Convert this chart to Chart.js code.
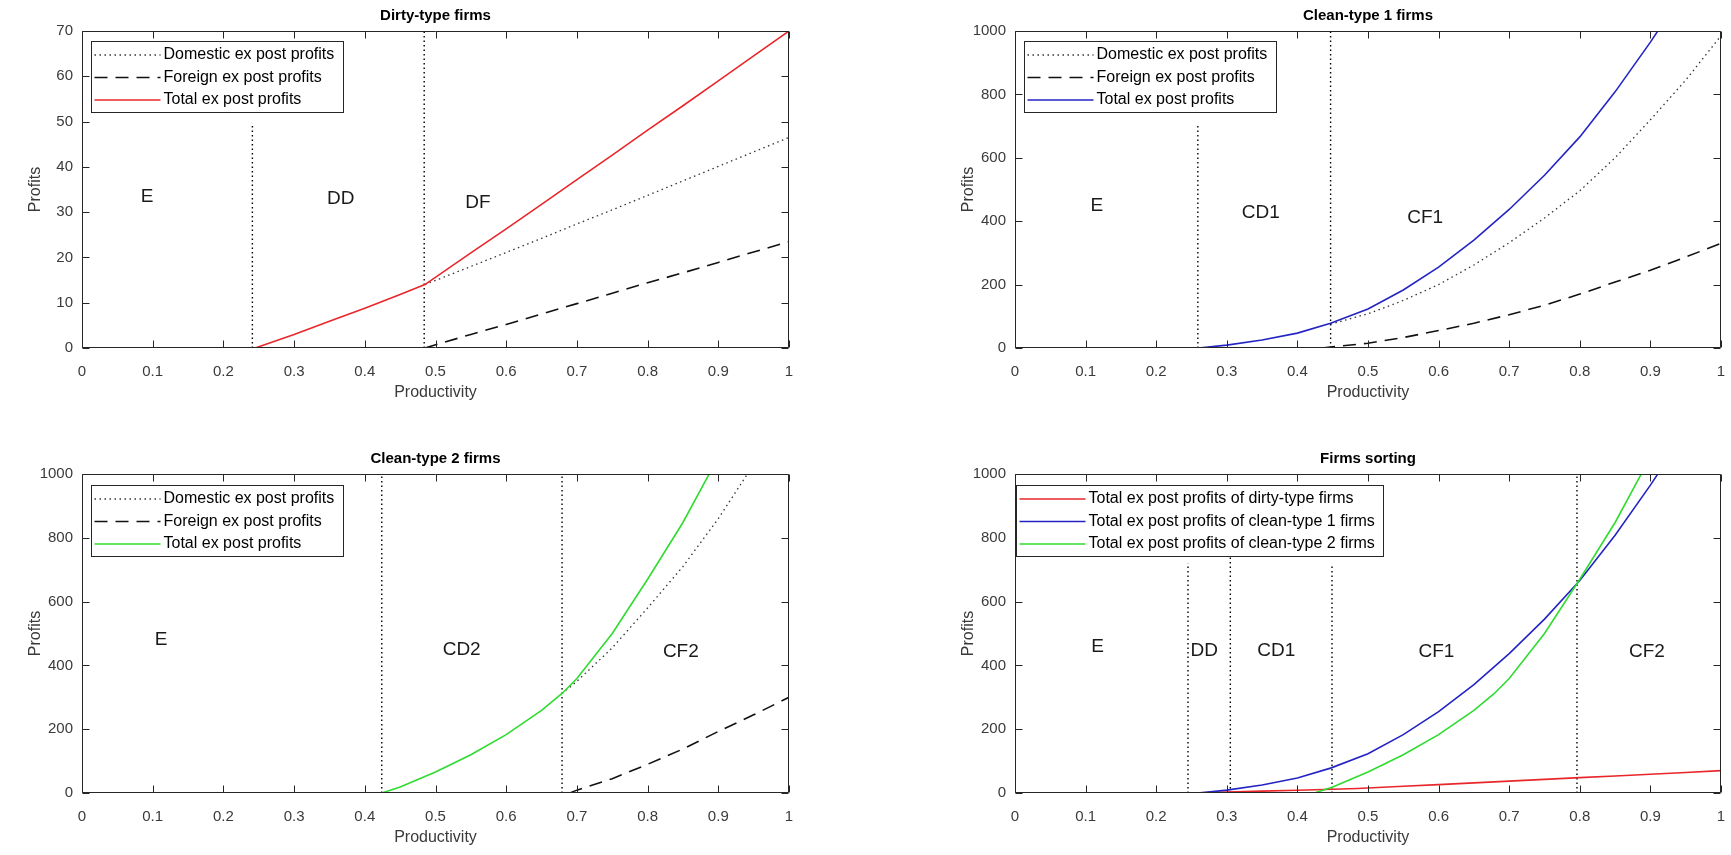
<!DOCTYPE html>
<html>
<head>
<meta charset="utf-8">
<script src="https://cdn.jsdelivr.net/npm/chart.js@4.4.1/dist/chart.umd.min.js"></script>
<style>
  html, body { margin: 0; padding: 0; background: #fff; overflow: hidden; }
  body { width: 1731px; height: 855px; position: relative; }
  .panel { position: absolute; }
</style>
</head>
<body>
<div class="panel" style="left:0px;top:0px;width:871px;height:408px"><canvas id="dirty"></canvas></div>
<div class="panel" style="left:933px;top:0px;width:870px;height:408px"><canvas id="clean1"></canvas></div>
<div class="panel" style="left:0px;top:443px;width:871px;height:410px"><canvas id="clean2"></canvas></div>
<div class="panel" style="left:933px;top:443px;width:870px;height:410px"><canvas id="sorting"></canvas></div>
<script>
const FONT = "'Liberation Sans', Arial, Helvetica, sans-serif";

// axis ticks
const xTicks = [0, 0.1, 0.2, 0.3, 0.4, 0.5, 0.6, 0.7, 0.8, 0.9, 1];
const xTickLabels = ['0', '0.1', '0.2', '0.3', '0.4', '0.5', '0.6', '0.7', '0.8', '0.9', '1'];
const yTicksDirty = [0, 10, 20, 30, 40, 50, 60, 70];
const yTickLabelsDirty = ['0', '10', '20', '30', '40', '50', '60', '70'];
const yTicksClean = [0, 200, 400, 600, 800, 1000];
const yTickLabelsClean = ['0', '200', '400', '600', '800', '1000'];

// dirty-type firms
const dirtyTotalX = [0, 0.245, 0.3, 0.35, 0.4, 0.45, 0.485, 0.55, 0.6, 0.65, 0.7, 0.75, 0.8, 0.85, 0.9, 0.95, 1];
const dirtyTotal = [0, 0, 3.0, 5.9, 8.8, 11.8, 14.0, 21.0, 26.3, 31.7, 37.2, 42.6, 48.1, 53.5, 59.0, 64.5, 70.0];
const dirtyFX = [0.485, 0.55, 0.6, 0.65, 0.7, 0.75, 0.8, 0.85, 0.9, 0.95, 1];
const dirtyDomestic = [14.0, 18.0, 21.1, 24.2, 27.4, 30.5, 33.7, 36.9, 40.1, 43.3, 46.5];
const dirtyForeign = [0, 3.0, 5.2, 7.5, 9.8, 12.1, 14.4, 16.6, 18.9, 21.2, 23.5];
const dirtyCutX = [0.241, 0.484];
const dirtyCutTop = [49, 70];
const dirtyRegions = ['E', 'DD', 'DF'];
const dirtyRegionX = [0.092, 0.366, 0.56];
const dirtyRegionY = [33.5, 33.0, 32.0];

// clean-type 1 firms
const c1TotalX = [0, 0.26, 0.3, 0.35, 0.4, 0.447, 0.5, 0.55, 0.6, 0.65, 0.7, 0.75, 0.8, 0.85, 0.9, 0.95, 1];
const c1Total = [0, 0, 9, 25, 47, 78, 123, 183, 255, 340, 437, 545, 666, 808, 965, 1132, 1315];
const c1DomX = [0.447, 0.5, 0.55, 0.6, 0.65, 0.7, 0.75, 0.8, 0.85, 0.9, 0.95, 1];
const c1Domestic = [75, 108, 150, 200, 262, 332, 410, 496, 600, 720, 845, 985];
const c1ForX = [0.435, 0.447, 0.5, 0.55, 0.6, 0.65, 0.7, 0.75, 0.8, 0.85, 0.9, 0.95, 1];
const c1Foreign = [0, 3, 15, 33, 55, 78, 105, 135, 170, 208, 245, 287, 330];
const c1CutX = [0.259, 0.447];
const c1CutTop = [700, 1000];
const c1Regions = ['E', 'CD1', 'CF1'];
const c1RegionX = [0.116, 0.348, 0.581];
const c1RegionY = [448, 426, 410];

// clean-type 2 firms
const c2TotalX = [0, 0.424, 0.45, 0.5, 0.55, 0.6, 0.65, 0.679, 0.7, 0.75, 0.8, 0.85, 0.9, 0.95];
const c2Total = [0, 0, 19, 66, 120, 183, 259, 312, 359, 500, 670, 848, 1053, 1275];
const c2DomX = [0.679, 0.7, 0.75, 0.8, 0.85, 0.9, 0.95, 1];
const c2Domestic = [312, 350, 455, 580, 710, 860, 1030, 1215];
const c2ForX = [0.69, 0.7, 0.75, 0.8, 0.85, 0.9, 0.95, 1];
const c2Foreign = [0, 9, 45, 90, 138, 193, 245, 300];
const c2CutX = [0.424, 0.679];
const c2CutTop = [1000, 1000];
const c2Regions = ['E', 'CD2', 'CF2'];
const c2RegionX = [0.112, 0.537, 0.847];
const c2RegionY = [480, 448, 442];

// firms sorting
const sortCutX = [0.245, 0.305, 0.449, 0.796];
const sortCutTop = [720, 740, 710, 1000];
const sortRegions = ['E', 'DD', 'CD1', 'CF1', 'CF2'];
const sortRegionX = [0.117, 0.268, 0.370, 0.597, 0.895];
const sortRegionY = [458, 445, 445, 442, 442];

const RED = '#e8262b';
const BLUE = '#2424c4';
const GREEN = '#2fdc2f';
const DOTTED = [1.5, 3.5];
const DASHED = [13, 8];

function pts(xs, ys) { return xs.map((x, i) => ({ x: x, y: ys[i] })); }

function cutLines(xs, tops) {
  return xs.map((x, i) => ({
    data: [{ x: x, y: 0 }, { x: x, y: tops[i] }],
    borderColor: '#000', borderWidth: 1.4, borderDash: [1.5, 3], order: 9
  }));
}

// MATLAB-like box with inward ticks, text labels and an inset legend
const matlabAxes = {
  id: 'matlabAxes',
  afterDatasetsDraw(chart, args, opts) {
    const { ctx, chartArea: a } = chart;
    const x = chart.scales.x, y = chart.scales.y;
    ctx.save();

    ctx.fillStyle = '#1a1a1a';
    ctx.font = '19px ' + FONT;
    ctx.textAlign = 'center';
    ctx.textBaseline = 'middle';
    opts.names.forEach((t, i) => {
      ctx.fillText(t, x.getPixelForValue(opts.nx[i]), y.getPixelForValue(opts.ny[i]));
    });

    const L = Math.round(a.left) + 0.5, R = Math.round(a.right) - 0.5;
    const T = Math.round(a.top) + 0.5, B = Math.round(a.bottom) - 0.5;
    ctx.strokeStyle = '#262626';
    ctx.lineWidth = 1;
    ctx.setLineDash([]);
    ctx.beginPath();
    ctx.rect(L, T, R - L, B - T);
    x.ticks.forEach(t => {
      const px = Math.round(x.getPixelForValue(t.value)) + 0.5;
      ctx.moveTo(px, B); ctx.lineTo(px, B - 7);
      ctx.moveTo(px, T); ctx.lineTo(px, T + 7);
    });
    y.ticks.forEach(t => {
      const py = Math.round(y.getPixelForValue(t.value)) + 0.5;
      ctx.moveTo(L, py); ctx.lineTo(L + 7, py);
      ctx.moveTo(R, py); ctx.lineTo(R - 7, py);
    });
    ctx.stroke();

    // legend
    const items = chart.data.datasets.filter(d => d.label);
    ctx.font = '16px ' + FONT;
    const maxW = Math.max(...items.map(d => ctx.measureText(d.label).width));
    const lx = Math.round(a.left + opts.legendDx) + 0.5;
    const ly = Math.round(a.top + opts.legendDy) + 0.5;
    const lw = Math.round(72 + maxW + 9), lh = 71;
    ctx.fillStyle = '#fff';
    ctx.fillRect(lx, ly, lw, lh);
    ctx.strokeStyle = '#262626';
    ctx.lineWidth = 1;
    ctx.strokeRect(lx, ly, lw, lh);
    items.forEach((d, i) => {
      const cy = ly + 13.5 + 22.5 * i;
      ctx.beginPath();
      ctx.strokeStyle = d.borderColor;
      ctx.lineWidth = d.borderWidth;
      ctx.setLineDash(d.borderDash || []);
      ctx.moveTo(lx + 3, cy);
      ctx.lineTo(lx + 69, cy);
      ctx.stroke();
      ctx.setLineDash([]);
      ctx.fillStyle = '#000';
      ctx.textAlign = 'left';
      ctx.fillText(d.label, lx + 72, cy);
    });
    ctx.restore();
  }
};

function buildPanel(id, title, yMax, yTicks, yLabels, lines, cutX, cutTop, names, nx, ny, legendDx, legendDy) {
  new Chart(document.getElementById(id), {
    type: 'line',
    data: { datasets: lines.concat(cutLines(cutX, cutTop)) },
    options: {
      responsive: true,
      maintainAspectRatio: false,
      animation: false,
      events: [],
      elements: { point: { radius: 0 }, line: { tension: 0, fill: false } },
      layout: { padding: 0 },
      plugins: {
        legend: { display: false },
        tooltip: { enabled: false },
        title: {
          display: true, text: title, color: '#000',
          font: { family: FONT, size: 15, weight: 'bold', lineHeight: 1.2 },
          padding: { top: 7, bottom: 6 }
        },
        matlabAxes: { names: names, nx: nx, ny: ny, legendDx: legendDx, legendDy: legendDy }
      },
      scales: {
        x: {
          type: 'linear', min: 0, max: 1,
          afterBuildTicks: s => { s.ticks = xTicks.map(v => ({ value: v })); },
          ticks: { callback: (v, i) => xTickLabels[i], color: '#3a3a3a', font: { family: FONT, size: 15 }, padding: 15, maxRotation: 0, autoSkip: false },
          grid: { display: false, drawTicks: false },
          border: { display: false },
          title: { display: true, text: 'Productivity', color: '#3a3a3a', font: { family: FONT, size: 16, lineHeight: 1.2 }, padding: { top: 0, bottom: 5.4 } },
          afterFit: s => { s.height = 60; }
        },
        y: {
          type: 'linear', min: 0, max: yMax,
          afterBuildTicks: s => { s.ticks = yTicks.map(v => ({ value: v })); },
          ticks: { callback: (v, i) => yLabels[i], color: '#3a3a3a', font: { family: FONT, size: 15 }, padding: 9, autoSkip: false },
          grid: { display: false, drawTicks: false },
          border: { display: false },
          title: { display: true, text: 'Profits', color: '#3a3a3a', font: { family: FONT, size: 16, lineHeight: 1.2 }, padding: { top: 26.4, bottom: 0 } },
          afterFit: s => { s.width = 82; }
        },
        y2: {
          position: 'right', display: true,
          ticks: { display: false },
          grid: { display: false, drawTicks: false },
          border: { display: false },
          afterFit: s => { s.width = 82; }
        }
      }
    },
    plugins: [matlabAxes]
  });
}

buildPanel('dirty', 'Dirty-type firms', 70, yTicksDirty, yTickLabelsDirty, [
  { label: 'Domestic ex post profits', data: pts(dirtyFX, dirtyDomestic), borderColor: '#333', borderWidth: 1.3, borderDash: DOTTED, order: 2 },
  { label: 'Foreign ex post profits', data: pts(dirtyFX, dirtyForeign), borderColor: '#111', borderWidth: 1.6, borderDash: DASHED, order: 3 },
  { label: 'Total ex post profits', data: pts(dirtyTotalX, dirtyTotal), borderColor: RED, borderWidth: 1.6, order: 1 }
], dirtyCutX, dirtyCutTop, dirtyRegions, dirtyRegionX, dirtyRegionY, 9, 10);

buildPanel('clean1', 'Clean-type 1 firms', 1000, yTicksClean, yTickLabelsClean, [
  { label: 'Domestic ex post profits', data: pts(c1DomX, c1Domestic), borderColor: '#333', borderWidth: 1.3, borderDash: DOTTED, order: 2 },
  { label: 'Foreign ex post profits', data: pts(c1ForX, c1Foreign), borderColor: '#111', borderWidth: 1.6, borderDash: DASHED, order: 3 },
  { label: 'Total ex post profits', data: pts(c1TotalX, c1Total), borderColor: BLUE, borderWidth: 1.6, order: 1 }
], c1CutX, c1CutTop, c1Regions, c1RegionX, c1RegionY, 9, 10);

buildPanel('clean2', 'Clean-type 2 firms', 1000, yTicksClean, yTickLabelsClean, [
  { label: 'Domestic ex post profits', data: pts(c2DomX, c2Domestic), borderColor: '#333', borderWidth: 1.3, borderDash: DOTTED, order: 2 },
  { label: 'Foreign ex post profits', data: pts(c2ForX, c2Foreign), borderColor: '#111', borderWidth: 1.6, borderDash: DASHED, order: 3 },
  { label: 'Total ex post profits', data: pts(c2TotalX, c2Total), borderColor: GREEN, borderWidth: 1.6, order: 1 }
], c2CutX, c2CutTop, c2Regions, c2RegionX, c2RegionY, 9, 11);

buildPanel('sorting', 'Firms sorting', 1000, yTicksClean, yTickLabelsClean, [
  { label: 'Total ex post profits of dirty-type firms', data: pts(dirtyTotalX, dirtyTotal), borderColor: RED, borderWidth: 1.6, order: 3 },
  { label: 'Total ex post profits of clean-type 1 firms', data: pts(c1TotalX, c1Total), borderColor: BLUE, borderWidth: 1.6, order: 2 },
  { label: 'Total ex post profits of clean-type 2 firms', data: pts(c2TotalX, c2Total), borderColor: GREEN, borderWidth: 1.6, order: 1 }
], sortCutX, sortCutTop, sortRegions, sortRegionX, sortRegionY, 1, 11);
</script>
</body>
</html>
